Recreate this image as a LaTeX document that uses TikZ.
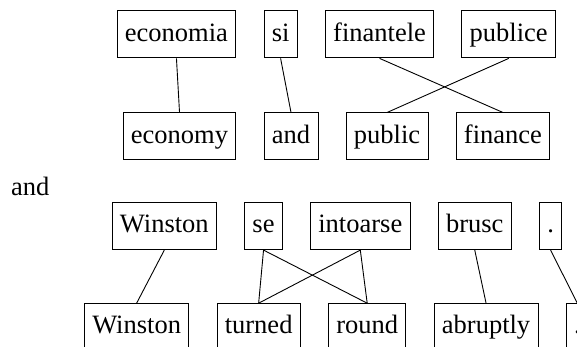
\documentclass[tikz,border=0pt]{standalone}
\usepackage{fontspec}
\setmainfont{LiberationSerif}[Extension=.ttf, UprightFont=*-Regular, BoldFont=*-Bold]
\usetikzlibrary{positioning}

\begin{document}
\begin{tikzpicture}[x=1pt,y=1pt,
	word/.style={draw, line width=0.9pt, inner xsep=7.8pt, inner ysep=8pt, text height=22.1pt, text depth=8.9pt},
	link/.style={line width=0.9pt},
	node distance=27.3pt,
	font=\fontsize{26.5}{32}\selectfont]
	\useasboundingbox (0,0) rectangle (577,-347);
	\clip (0,0) rectangle (577,-347);
	%\draw[help lines] (0,0) grid[step=50] (577,-347);

	% first example
	\node[word, anchor=north west] (economia) at (116.7,-10.5) {economia};
	\node[word, right=of economia] (si) {si};
	\node[word, right=of si] (finantele) {finantele};
	\node[word, right=of finantele] (publice) {publice};

	\node[word, anchor=north west] (economy) at (122.7,-112.5) {economy};
	\node[word, right=of economy] (and) {and};
	\node[word, right=of and] (public) {public};
	\node[word, right=of public] (finance) {finance};

	\draw[link] (economia.south) -- (economy.north);
	\draw[link] (si.south) -- (and.north);
	\draw[link] (finantele.south) -- (finance.north);
	\draw[link] (publice.south) -- (public.north);

	\node[anchor=base west, inner sep=0pt] (andtext) at (11,-196) {and};

	% second example
	\node[word, anchor=north west] (winstonro) at (111.7,-202.2) {Winston};
	\node[word, right=of winstonro] (se) {se};
	\node[word, right=of se] (intoarse) {intoarse};
	\node[word, right=of intoarse] (brusc) {brusc};
	\node[word, right=of brusc] (dotro) {.};

	\node[word, anchor=north west] (winstonen) at (84,-303.2) {Winston};
	\node[word, right=of winstonen] (turned) {turned};
	\node[word, right=of turned] (round) {round};
	\node[word, right=of round] (abruptly) {abruptly};
	\node[word, right=of abruptly] (doten) {.};

	\draw[link] (winstonro.south) -- (winstonen.north);
	\draw[link] (se.south) -- (turned.north);
	\draw[link] (se.south) -- (round.north);
	\draw[link] (intoarse.south) -- (turned.north);
	\draw[link] (intoarse.south) -- (round.north);
	\draw[link] (brusc.south) -- (abruptly.north);
	\draw[link] (dotro.south) -- (doten.north);
\end{tikzpicture}
\end{document}
